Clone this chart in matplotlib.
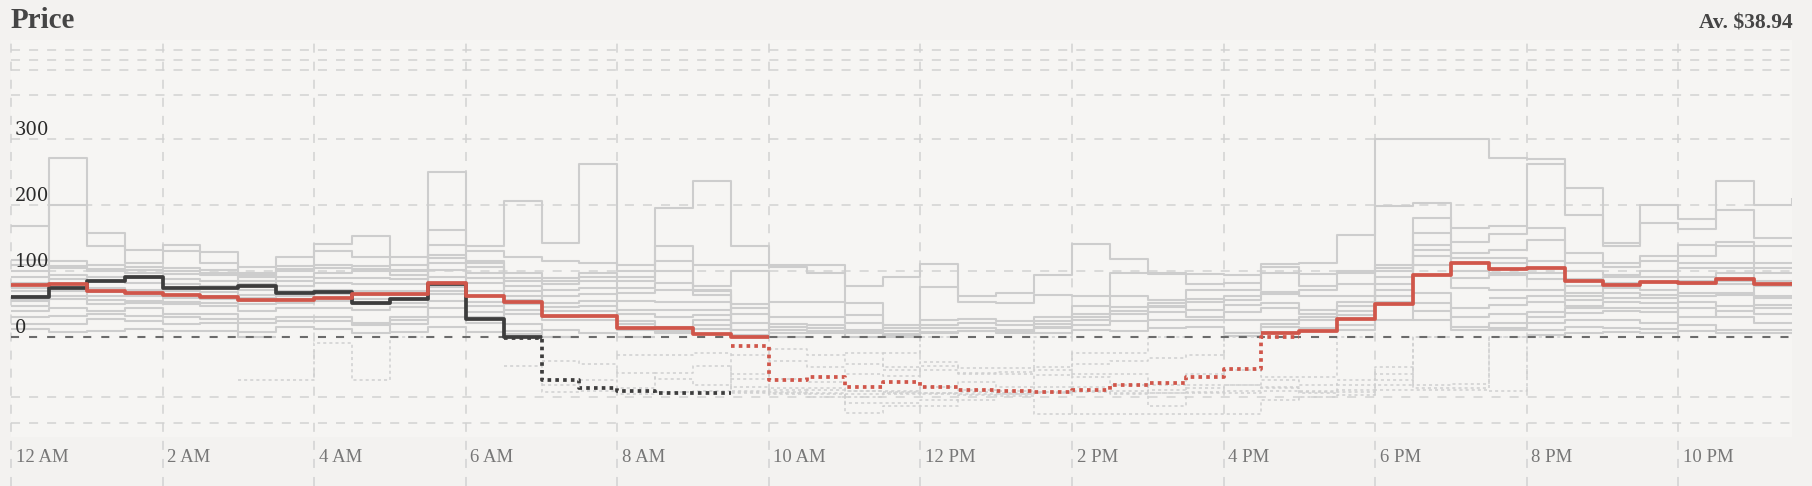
import numpy as np
import matplotlib
matplotlib.use("Agg")
import matplotlib.pyplot as plt
from matplotlib import transforms

# half-hour slots, 12 AM .. 11:30 PM
hours = np.arange(48) * 0.5

# today's price (forecast, red) and actual so far (black)
red_price = [78.5, 80.5, 70.4, 66.9, 64.3, 61.8, 56.7, 56.2, 59.3, 65.9,
             65.9, 82, 63.3, 54.2, 32.4, 32.4, 13.7, 14.7, 4.6, -14,
             -72, -67, -83, -76, -84, -89, -90, -92, -89, -81,
             -77, -66, -54, 6, 10, 27.8, 50.2, 94.7, 112.5, 103.8,
             104.8, 86, 79.5, 84.5, 83, 88, 81, 84.5]
black_price = [61.8, 74.5, 86, 92, 74.5, 74.5, 78, 67, 68, 51.7,
               57.8, 81, 27.9, -1, -72, -86, -90, -94, -94, -94]

# previous days (grey history)
gray_a = [168, 272, 158, 132, 140, 129, 107, 122, 142, 153, 122, 250, 139, 206, 143, 262, 110, 196, 237, 138, 110, 110, 77, 92,
          111, 63, 67, 95, 142, 119, 98, 96, 95, 111, 113, 155, 302, 302, 301, 272, 270, 226, 143, 200, 179, 237, 200, 211]
gray_b = [117, 201, 139, 112, 130, 112, 98, 108, 130, 122, 110, 162, 130, 122, 115, 112, 100, 138, 110, 110, 107, 97, 52, 19,
          76, 53, 52, 64, 63, 98, 96, 81, 82, 107, 96, 100, 199, 204, 166, 168, 262, 186, 138, 173, 164, 193, 150, 150]
gray_c = [100, 115, 110, 106, 105, 102, 92, 100, 110, 108, 102, 140, 115, 97, 90, 97, 92, 115, 77, 100, 54, 54, 34, 14,
          26, 27, 24, 31, 48, 63, 56, 71, 72, 97, 77, 97, 110, 181, 145, 156, 166, 128, 112, 123, 140, 145, 138, 138]
gray_d = [92, 105, 100, 98, 96, 94, 86, 92, 98, 100, 95, 125, 107, 85, 80, 85, 75, 82, 72, 50, 30, 30, 21, 9,
          19, 21, 19, 24, 36, 46, 52, 54, 62, 69, 62, 62, 105, 158, 128, 133, 148, 112, 107, 115, 123, 138, 112, 112]
gray_e = [82, 95, 92, 90, 88, 86, 80, 85, 90, 90, 88, 112, 97, 78, 72, 75, 67, 72, 64, 36, 16, 14, 11, 5,
          14, 14, 11, 16, 26, 35, 47, 42, 49, 52, 42, 54, 92, 133, 112, 112, 115, 77, 92, 92, 112, 112, 97, 97]
gray_f = [75, 88, 85, 82, 80, 78, 72, 78, 82, 80, 80, 102, 90, 70, 62, 65, 55, 54, 54, 21, 11, 9, 6, -27,
          6, 9, 6, 14, 19, 24, 39, 31, 39, 44, 36, 47, 72, 123, 90, 95, 97, 67, 82, 72, 92, 97, 77, 77]
gray_g = [62, 80, 75, 72, 70, 68, 64, 70, 72, 70, 70, 92, 82, 62, 52, 55, 42, 42, 42, 11, 6, 6, -27, -55,
          -41, -52, -52, 6, 11, 9, 26, 26, 26, 26, 26, 34, 62, 95, 74, 72, 72, 57, 67, 60, 80, 80, 59, 59]
gray_h = [55, 70, 62, 62, 60, 58, 55, 58, 60, 58, 58, 82, 70, 50, 40, 40, 25, 16, 26, -30, -40, -50, -61, -65,
          -55, -61, -61, -55, -27, -27, 14, 16, 6, 16, 14, 19, 54, 67, 44, 49, 53, 47, 54, 52, 67, 67, 49, 49]
gray_i = [48, 58, 50, 52, 50, 48, 40, 45, 45, 42, 46, 70, 54, 36, 26, 26, 11, 6, 12, -61, -70, -75, -90, -90,
          -83, -75, -83, -64, -61, -61, -81, -61, -55, -66, -66, 11, 26, 52, 16, 21, 39, 37, 40, 39, 54, 47, 36, 36]
gray_j = [40, 45, 40, 44, 36, 35, 28, 30, 30, 22, 30, 55, 38, 20, 11, 6, -30, -30, -27, -83, -88, -85, -100, -95,
          -94, -88, -90, -83, -66, -81, -94, -81, -81, -72, -81, -72, -61, 26, 11, 14, 21, 26, 26, 21, 44, 31, 21, 21]
gray_k = [20, 20, 27, 25, 20, 22, 8, 15, 12, 6, 20, 30, 22, 5, -80, -72, -85, -60, -49, -92, -92, -93, -320, -320,
          -200, -97, -95, -92, -83, -94, -400, -94, -94, -83, -94, -88, -72, -86, -86, 11, 11, 15, 14, 12, 19, 11, 11, 11]
gray_l = [12, 8, 10, 12, 10, 10, -72, -72, -10, -72, 8, 15, 8, -49, -92, -90, -95, -92, -90, -94, -96, -100, -650, -400,
          -400, -200, -99, -700, -700, -700, -700, -700, -700, -200, -100, -97, -88, -88, -88, -90, 4, 6, 8, 6, 10, 6, 6, 6]
gray_m = [110, 108, 104, 102, 100, 98, 95, 104, 105, 104, 100, 120, 112, 90, 85, 92, 85, 100, 70, 45, 20, 18, 8, 3,
          8, 10, 8, 20, 30, 40, 46, 58, 56, 65, 72, 80, 100, 140, 120, 120, 105, 100, 95, 100, 105, 105, 105, 105]
gray_n = [70, 75, 68, 66, 64, 62, 60, 62, 66, 64, 64, 76, 62, 56, 46, 48, 36, 30, 34, 3, -20, -30, -45, -50,
          -48, -60, -58, -50, -45, -40, -35, -30, 2, 20, 30, 40, 80, 110, 100, 98, 88, 88, 75, 84, 85, 85, 85, 85]
gray_o = [58, 62, 56, 55, 54, 52, 50, 52, 55, 50, 52, 65, 48, 42, 30, 32, 20, 10, 18, -70, -85, -88, -90, -92,
          -93, -92, -94, -92, -90, -91, -88, -86, -80, -85, -90, -80, -50, -80, -78, 60, 62, 62, 60, 64, 62, 64, 62, 62]
gray_p = [30, 32, 35, 33, 30, 28, 22, 25, 24, 18, 26, 45, 30, 10, -40, -45, -60, -70, -80, -90, -93, -95, -96, -94,
          -95, -96, -95, -93, -92, -95, -93, -92, -90, -91, -92, -92, -80, 40, 30, 35, 30, 44, 44, 44, 30, 40, 44, 44]
gray_series = [gray_a, gray_b, gray_c, gray_d, gray_e, gray_f, gray_g, gray_h,
               gray_i, gray_j, gray_k, gray_l, gray_m, gray_n, gray_o, gray_p]

tick_hours = list(range(0, 24, 2))
tick_names = ["12 AM", "2 AM", "4 AM", "6 AM", "8 AM", "10 AM",
              "12 PM", "2 PM", "4 PM", "6 PM", "8 PM", "10 PM"]
y_labels = [0, 100, 200, 300]
y_grid = [-1000, -100, 100, 200, 300, 500, 5000, 10000, 15000]

# piecewise y scale: linear -100..300, compressed beyond
scale_vals = [-5000, -1000, -100, 0, 300, 500, 5000, 10000, 15000, 20000]
scale_pos = [-99.7, -86.0, -59.4, 0, 198.0, 242.3, 267.3, 277.3, 287.3, 297.3]


def fwd(v):
    return np.interp(v, scale_vals, scale_pos)


def inv(p):
    return np.interp(p, scale_pos, scale_vals)


def split_sign(values):
    # solid above zero, dotted below zero
    v = np.asarray(values, float)
    neg = v < 0
    prev_neg = np.r_[False, neg[:-1]]
    solid = np.where(neg & prev_neg, np.nan, np.maximum(v, 0))
    dotted = np.where(neg | prev_neg, np.minimum(v, 0), np.nan)
    return solid, dotted


plt.rcParams["lines.scale_dashes"] = False
plt.rcParams["lines.solid_capstyle"] = "butt"

BG = "#f3f2f0"
fig = plt.figure(figsize=(18.12, 4.86), dpi=100, facecolor=BG)
ax = fig.add_axes([11 / 1812, 49 / 486, 1781 / 1812, 397 / 486])
ax.set_facecolor("#f6f5f3")
ax.set_yscale("function", functions=(fwd, inv))
ax.set_xlim(0, 23.5)
ax.set_ylim(-5000, 20000)
for s in ax.spines.values():
    s.set_visible(False)
ax.set_xticks([])
ax.set_yticks([])

# grid
for v in y_grid:
    ax.axhline(v, color="#d2d2d2", lw=1.1, ls=(0, (6.5, 6.5)), zorder=1)
for h in tick_hours:
    ax.axvline(h, ymin=-0.124, ymax=1, clip_on=False, color="#d2d2d2",
               lw=1.1, ls=(0, (6.5, 6.5)), zorder=1)

# history
for series in gray_series:
    assert len(series) == 48
    solid, dotted = split_sign(series)
    ax.plot(hours, solid, drawstyle="steps-post", color="#cdcdcd", lw=1.5, zorder=2)
    ax.plot(hours, dotted, drawstyle="steps-post", color="#d0d0d0", lw=1.1,
            ls=(0, (2.2, 2.2)), zorder=2)

ax.axhline(0, color="#6b6b6b", lw=1.5, ls=(0, (5.8, 7.2)), zorder=3)

black_hours = hours[:len(black_price)]
solid, dotted = split_sign(black_price)
ax.plot(black_hours, solid, drawstyle="steps-post", color="#3d3d3d", lw=2.7, zorder=4)
ax.plot(black_hours, dotted, drawstyle="steps-post", color="#3d3d3d", lw=2.7,
        ls=(0, (2.6, 3.0)), zorder=4)

solid, dotted = split_sign(red_price)
ax.plot(hours, solid, drawstyle="steps-post", color="#d0564a", lw=2.7, zorder=5)
ax.plot(hours, dotted, drawstyle="steps-post", color="#d0564a", lw=2.7,
        ls=(0, (2.6, 3.0)), zorder=5)

# axis labels drawn inside the plot
xoff = transforms.ScaledTranslation(4.5 / 100, 0, fig.dpi_scale_trans)
xtrans = transforms.blended_transform_factory(ax.transData, ax.transAxes) + xoff
for h, name in zip(tick_hours, tick_names):
    ax.text(h, -0.051, name, transform=xtrans, ha="left", va="center",
            fontsize=13.5, family="Liberation Serif", color="#777777", clip_on=False)

ytrans = transforms.blended_transform_factory(ax.transAxes, ax.transData)
for v in y_labels:
    ax.text(0.0022, v, str(v), transform=ytrans, ha="left", va="bottom",
            fontsize=13, family="DejaVu Serif", color="#2a2a2a", zorder=6)

fig.text(11 / 1812, 1 - 20 / 486, "Price", ha="left", va="center",
         fontsize=21, fontweight="bold", family="Liberation Serif", color="#454545")
fig.text(1793 / 1812, 1 - 23 / 486, "Av. $38.94", ha="right", va="center",
         fontsize=15.5, fontweight="bold", family="Liberation Serif", color="#454545")

fig.savefig("out.png", dpi=100, facecolor=BG)
